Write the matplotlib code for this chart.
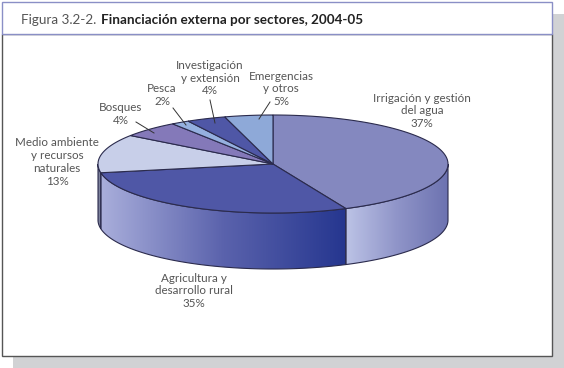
#!/usr/bin/env python3
import matplotlib
matplotlib.use("Agg")
import matplotlib.pyplot as plt
import numpy as np
from matplotlib.colors import LinearSegmentedColormap
from matplotlib.patches import Polygon, Rectangle

plt.rcParams["font.family"] = ["Lato", "DejaVu Sans"]

TITLE_PREFIX = "Figura 3.2-2."
TITLE_BOLD = "Financiación externa por sectores, 2004-05"

SECTORS = [
    "Irrigación y gestión\ndel agua",
    "Agricultura y\ndesarrollo rural",
    "Medio ambiente\ny recursos\nnaturales",
    "Bosques",
    "Pesca",
    "Investigación\ny extensión",
    "Emergencias\ny otros",
]
SHARES = [37, 35, 13, 4, 2, 4, 5]
# the pie in the picture is not true to its labels, so these are the drawn sweeps
SWEEPS = [155.4, 104.3, 45.8, 19.5, 6, 13, 16]
TOP_COLORS = ["#8488bf", "#4f57a6", "#c8cfe9", "#8479b9", "#95b0df", "#4f57a6", "#8ea9d8"]
LABEL_POS = [(422, 111), (194, 291), (57, 162), (121, 114), (162, 95), (210, 78), (281, 89)]
LEADERS = [
    ((136, 122), (154, 133)),
    ((173, 108), (186, 125)),
    ((210, 100), (215, 123)),
    ((270, 102), (259, 119)),
]

CX, CY, RX, RY, DEPTH = 273, 164, 175, 49, 56
EDGE = "#2b2b4d"
TEXT = "#555555"


def rim(a0, a1, dy=0):
    # angles run clockwise from the top of the ellipse
    t = np.radians(np.linspace(a0, a1, 120))
    return np.column_stack([CX + RX * np.sin(t), CY + dy - RY * np.cos(t)])


def wall(ax, a0, a1, colors):
    top = rim(a0, a1)
    pts = np.vstack([top, rim(a0, a1, DEPTH)[::-1]])
    poly = Polygon(pts, closed=True, facecolor="none", edgecolor=EDGE, linewidth=0.8, zorder=3)
    ax.add_patch(poly)
    x0, x1 = pts[:, 0].min(), pts[:, 0].max()
    cmap = LinearSegmentedColormap.from_list("w", colors)
    im = ax.imshow(
        np.linspace(0, 1, 256)[None, :],
        cmap=cmap,
        extent=(x0, x1, pts[:, 1].max(), pts[:, 1].min()),
        aspect="auto",
        zorder=2,
    )
    im.set_clip_path(Polygon(pts, closed=True, transform=ax.transData))


def main():
    fig = plt.figure(figsize=(5.64, 3.68), dpi=100)
    ax = fig.add_axes([0, 0, 1, 1])

    # frame and shadow
    ax.add_patch(Rectangle((13, 14), 551, 354, facecolor="#d1d2d4", edgecolor="none", zorder=0))
    ax.add_patch(Rectangle((1.5, 34), 550.5, 322, facecolor="white", edgecolor="#555555", linewidth=1.0, zorder=1))
    ax.add_patch(Rectangle((1.5, 1.5), 550.5, 32.5, facecolor="white", edgecolor="#8a8fc6", linewidth=1.0, zorder=1))

    ax.text(21, 20, TITLE_PREFIX, fontsize=9.7, color="#555555", va="center", ha="left")
    ax.text(101, 20, TITLE_BOLD, fontsize=9.7, color="#222222", fontweight="bold", va="center", ha="left")

    edges = np.concatenate([[0], np.cumsum(SWEEPS)])

    # side walls
    wall(ax, 90, edges[1], ["#bcc3e6", "#8f94c8", "#6c72b0"])
    wall(ax, edges[1], edges[2], ["#a9aedb", "#5a62ac", "#25368f"])
    wall(ax, edges[2], 270, ["#6f7390", "#8a8fa8"])

    # top of the pie
    for a0, a1, color in zip(edges[:-1], edges[1:], TOP_COLORS):
        pts = np.vstack([[CX, CY], rim(a0, a1)])
        ax.add_patch(Polygon(pts, closed=True, facecolor=color, edgecolor=EDGE, linewidth=0.8, zorder=4))

    for (p0, p1) in LEADERS:
        ax.plot([p0[0], p1[0]], [p0[1], p1[1]], color="#333333", linewidth=0.7, zorder=5)

    for name, share, (x, y) in zip(SECTORS, SHARES, LABEL_POS):
        ax.text(
            x, y, f"{name}\n{share}%",
            fontsize=8.4, color=TEXT, ha="center", va="center", linespacing=1.22, zorder=6,
        )

    ax.set_xlim(0, 564)
    ax.set_ylim(368, 0)
    ax.axis("off")
    fig.savefig("out.png", dpi=100)
    plt.close(fig)


if __name__ == "__main__":
    main()
